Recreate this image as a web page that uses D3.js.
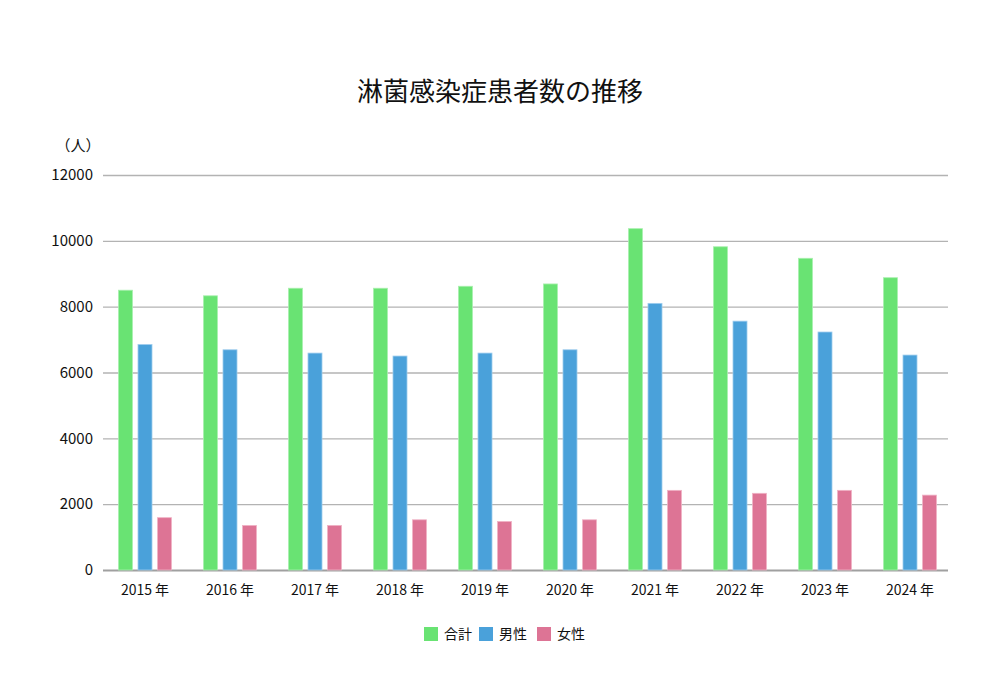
<!DOCTYPE html>
<html><head><meta charset="utf-8">
<script src="https://cdn.jsdelivr.net/npm/d3@7"></script>
<style>
body{margin:0;background:#fff;}
text{font-family:"Noto Sans CJK JP","Noto Sans",sans-serif;fill:#111;}
</style></head>
<body><svg id="c" width="1001" height="700"></svg>
<script>
const years = ["2015 年","2016 年","2017 年","2018 年","2019 年","2020 年","2021 年","2022 年","2023 年","2024 年"];
const seriesNames = ["合計","男性","女性"];
const totalValues = [8500, 8330, 8560, 8560, 8620, 8690, 10370, 9820, 9470, 8880];
const maleValues  = [6850, 6690, 6590, 6500, 6590, 6690, 8100, 7560, 7230, 6530];
const femaleValues= [1590, 1355, 1355, 1525, 1475, 1525, 2420, 2330, 2420, 2275];
const yTicks = [0,2000,4000,6000,8000,10000,12000];
const colors = ["#69e373","#4aa1da","#dd7495"];
const strokes = ["#a9f0ae","#9fcdee","#f0b3c6"];

const svg = d3.select("#c");
const x0 = d3.scaleBand().domain(years).range([102.5,952.5]).paddingInner(0.376).paddingOuter(0.188);
const x1 = d3.scaleBand().domain(seriesNames).range([0,x0.bandwidth()]).paddingInner(0.282).paddingOuter(0);
const y = d3.scaleLinear().domain([0,12000]).range([570,175]);
const data = [totalValues, maleValues, femaleValues];

// grid
const yAxis = d3.axisLeft(y).tickValues(yTicks).tickSize(-(948-103)).tickFormat(d=>d).tickPadding(10);
const gy = svg.append("g").attr("transform","translate(103,0)").call(yAxis);
gy.select(".domain").remove();
gy.selectAll(".tick line").attr("stroke","#b3b3b3").attr("stroke-width",1.4);
gy.selectAll(".tick").filter(d=>d===0).select("line").attr("stroke","#a0a0a0").attr("stroke-width",2);
gy.selectAll(".tick text").attr("font-size",15).attr("fill","#111").attr("x",-10);

// bars
const groups = svg.append("g").selectAll("g").data(years).join("g")
  .attr("transform",d=>`translate(${x0(d)},0)`);
seriesNames.forEach((s,si)=>{
  groups.append("rect")
    .attr("x",x1(s)).attr("width",x1.bandwidth())
    .attr("y",(d,i)=>y(data[si][i]))
    .attr("height",(d,i)=>y(0)-y(data[si][i]))
    .attr("fill",colors[si]).attr("stroke",strokes[si]).attr("stroke-width",0.8);
});

// x axis labels
const xAxis = d3.axisBottom(x0).tickSize(0).tickPadding(14);
const gx = svg.append("g").attr("transform","translate(0,571)").call(xAxis);
gx.select(".domain").remove();
gx.selectAll(".tick text").attr("font-size",14).attr("fill","#111");

// title
svg.append("text").attr("x",500).attr("y",101).attr("text-anchor","middle")
  .attr("font-size",26).text("淋菌感染症患者数の推移");
svg.append("text").attr("x",78).attr("y",151).attr("text-anchor","middle")
  .attr("font-size",15).text("（人）");

// legend
const legX = [424,479,537];
seriesNames.forEach((s,i)=>{
  svg.append("rect").attr("x",legX[i]).attr("y",627).attr("width",14).attr("height",14).attr("fill",colors[i]);
  svg.append("text").attr("x",legX[i]+20).attr("y",639).attr("font-size",14).text(s);
});
</script></body></html>
